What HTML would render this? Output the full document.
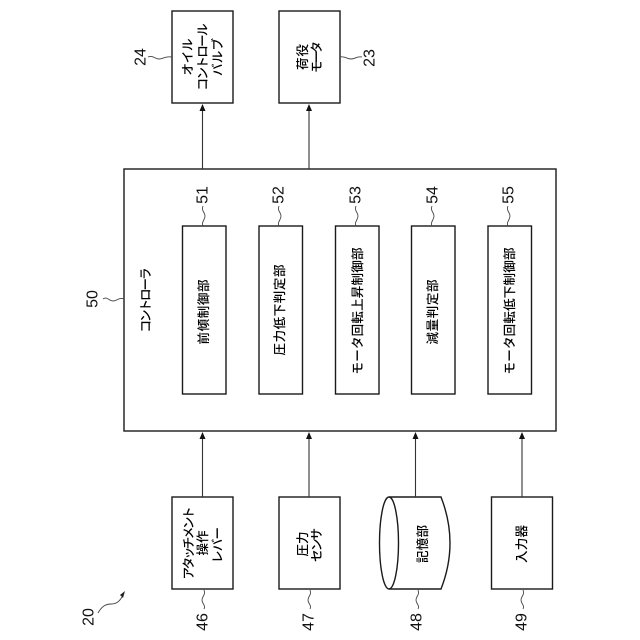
<!DOCTYPE html>
<html><head><meta charset="utf-8"><style>
html,body{margin:0;padding:0;background:#fff}
svg{display:block}
.j{font-family:"Liberation Sans","Noto Sans CJK JP",sans-serif;font-size:12.500px;font-weight:500;fill:#000;text-anchor:middle;dominant-baseline:central}
.n{font-family:"Liberation Sans",sans-serif;font-size:16px;fill:#111;text-anchor:middle;dominant-baseline:central}
.b{fill:none;stroke:#1a1a1a;stroke-width:1.4}
.l{fill:none;stroke:#333;stroke-width:1.1}
.s{fill:none;stroke:#444;stroke-width:.9}
</style></head><body>
<svg width="640" height="640" viewBox="0 0 640 640" xmlns="http://www.w3.org/2000/svg">
<rect class="b" x="172" y="11" width="61" height="92"/>
<rect class="b" x="279" y="11" width="61" height="92"/>
<rect class="b" x="124" y="169" width="432" height="262"/>
<rect class="b" x="182.500" y="226" width="43.500" height="168"/>
<rect class="b" x="259" y="226" width="43.500" height="168"/>
<rect class="b" x="335.500" y="226" width="43.500" height="168"/>
<rect class="b" x="411.500" y="226" width="43.500" height="168"/>
<rect class="b" x="488" y="226" width="43.500" height="168"/>
<rect class="b" x="172" y="497" width="61" height="92"/>
<rect class="b" x="279" y="497" width="61" height="92"/>
<rect class="b" x="491.500" y="497" width="61" height="92"/>
<ellipse class="b" cx="389" cy="543" rx="9.500" ry="46"/>
<path class="b" d="M389 497H441Q450 520 450 543Q450 566 441 589H389"/>

<path class="l" d="M202.500 169V108M309 169V108M202.500 497V436M309 497V436M415.500 497V436M522 497V436"/>
<path fill="#111" d="M202.500 104l-3 7h6zM309 104l-3 7h6zM202.500 432l-3 7h6zM309 432l-3 7h6zM415.500 432l-3 7h6zM522 432l-3 7h6z"/>

<path class="s" d="M148 57c5-2 7 2 11 2s6-3 13-2"/>
<path class="s" d="M340 57c5-1 7 2 11 2s6-3 11-2"/>
<path class="s" d="M103 299c4-3 6 2 10 2s6-4 11-2"/>
<path class="s" d="M203 206c-2 5 2 6 2 10s-4 6-2 10"/>
<path class="s" d="M279 206c-2 5 2 6 2 10s-4 6-2 10"/>
<path class="s" d="M356 206c-2 5 2 6 2 10s-4 6-2 10"/>
<path class="s" d="M432 206c-2 5 2 6 2 10s-4 6-2 10"/>
<path class="s" d="M508 206c-2 5 2 6 2 10s-4 6-2 10"/>
<path class="s" d="M204 590c2 5-2 6-2 10s4 5 2 9"/>
<path class="s" d="M310 590c2 5-2 6-2 10s4 5 2 9"/>
<path class="s" d="M418 590c2 5-2 6-2 10s4 5 2 9"/>
<path class="s" d="M523 590c2 5-2 6-2 10s4 5 2 9"/>
<path class="s" d="M98 613c4-7 8-9 13-9s8-2 11-7"/>
<path fill="#222" d="M125 591l-5 4 3 3z"/>

<text class="j" transform="translate(188,57) rotate(-90)" textLength="37">オイル</text>
<text class="j" transform="translate(203,57) rotate(-90)" textLength="67">コントロール</text>
<text class="j" transform="translate(218,57) rotate(-90)" textLength="38">バルブ</text>
<text class="j" transform="translate(303,57) rotate(-90)" textLength="26">荷役</text>
<text class="j" transform="translate(317,57) rotate(-90)" textLength="32">モータ</text>
<text class="j" transform="translate(146,300) rotate(-90)" textLength="65">コントローラ</text>
<text class="j" transform="translate(204,312) rotate(-90)" textLength="65">前傾制御部</text>
<text class="j" transform="translate(280,310) rotate(-90)" textLength="91">圧力低下判定部</text>
<text class="j" transform="translate(358,311) rotate(-90)" textLength="127">モータ回転上昇制御部</text>
<text class="j" transform="translate(433,312) rotate(-90)" textLength="65">減量判定部</text>
<text class="j" transform="translate(510,311) rotate(-90)" textLength="127">モータ回転低下制御部</text>
<text class="j" transform="translate(189,543) rotate(-90)" textLength="73">アタッチメント</text>
<text class="j" transform="translate(203,543) rotate(-90)" textLength="25">操作</text>
<text class="j" transform="translate(218,545) rotate(-90)" textLength="36">レバー</text>
<text class="j" transform="translate(303,544) rotate(-90)" textLength="25">圧力</text>
<text class="j" transform="translate(317,545) rotate(-90)" textLength="34">センサ</text>
<text class="j" transform="translate(423,544) rotate(-90)" textLength="38">記憶部</text>
<text class="j" transform="translate(522,544) rotate(-90)" textLength="38">入力器</text>

<text class="n" transform="translate(141,57) rotate(-90)">24</text>
<text class="n" transform="translate(370,58) rotate(-90)">23</text>
<text class="n" transform="translate(93,299) rotate(-90)">50</text>
<text class="n" transform="translate(203,195) rotate(-90)">51</text>
<text class="n" transform="translate(279,195) rotate(-90)">52</text>
<text class="n" transform="translate(356,195) rotate(-90)">53</text>
<text class="n" transform="translate(433,195) rotate(-90)">54</text>
<text class="n" transform="translate(509,195) rotate(-90)">55</text>
<text class="n" transform="translate(203,622) rotate(-90)">46</text>
<text class="n" transform="translate(309,622) rotate(-90)">47</text>
<text class="n" transform="translate(417,622) rotate(-90)">48</text>
<text class="n" transform="translate(522,622) rotate(-90)">49</text>
<text class="n" transform="translate(89,617) rotate(-90)">20</text>
</svg>
</body></html>
